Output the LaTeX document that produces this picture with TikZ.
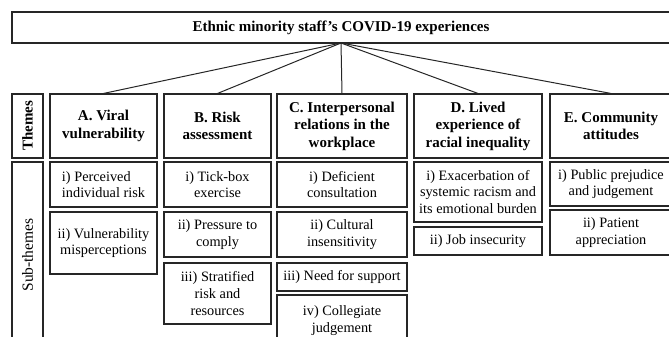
\documentclass[tikz,border=0pt]{standalone}
\usepackage{fontspec}
\setmainfont{Liberation Serif}
\begin{document}
\begin{tikzpicture}[x=1pt,y=-1pt,
  box/.style={draw=black!85, line width=1.1pt, inner sep=0pt, align=center,
    font=\fontsize{14.3}{16.7}\selectfont},
  thm/.style={box, font=\bfseries\fontsize{15}{17.5}\selectfont},
  link/.style={draw=black!85, line width=1pt}]
\useasboundingbox (0,0) rectangle (669,337);
\newcommand\bx[7][box]{\node[#1, minimum width={#5-#3}, minimum height={#6-#4}] (#2) at ({(#3+#5)/2},{(#4+#6)/2}) {#7};}
% title
\bx{top}{12}{12}{670}{43}{\bfseries\fontsize{15}{17}\selectfont Ethnic minority staff’s COVID-19 experiences}
% row labels
\node[box, rotate=90, minimum width=64, minimum height=31, font=\bfseries\fontsize{15}{17}\selectfont] (themes) at (27.5,126) {Themes};
\node[box, rotate=90, minimum width=186, minimum height=31, font=\fontsize{15.5}{17}\selectfont] (subthemes) at (27.5,255) {Sub-themes};
% themes
\bx[thm]{A}{50}{94}{157}{158}{A. Viral\\vulnerability}
\bx[thm]{B}{164}{94}{271}{158}{B. Risk\\assessment}
\bx[thm]{C}{277}{94}{407}{158}{C. Interpersonal\\relations in the\\workplace}
\bx[thm]{D}{414}{94}{542}{158}{D. Lived\\experience of\\racial inequality}
\bx[thm]{E}{550}{94}{672}{158}{E. Community\\attitudes}
% connectors
\coordinate (hub) at (341,43);
\foreach \t in {A,B,C,D,E} \draw[link] (hub) -- (\t.north);
% sub-themes
\bx[box, align=left]{A1}{50}{162}{157}{207}{i) Perceived\\individual risk}
\bx{A2}{50}{212}{157}{274}{ii) Vulnerability\\misperceptions}
\bx{B1}{164}{162}{271}{207}{i) Tick-box\\exercise}
\bx{B2}{164}{212}{271}{257}{ii) Pressure to\\comply}
\bx{B3}{164}{263}{271}{324}{iii) Stratified\\risk and\\resources}
\bx{C1}{277}{162}{407}{207}{i) Deficient\\consultation}
\bx{C2}{277}{212}{407}{257}{ii) Cultural\\insensitivity}
\bx{C3}{277}{263}{407}{291}{iii) Need for support}
\bx{C4}{277}{295}{407}{346}{iv) Collegiate\\judgement}
\bx{D1}{414}{162}{542}{222}{i) Exacerbation of\\systemic racism and\\its emotional burden}
\bx{D2}{414}{227}{542}{255}{ii) Job insecurity}
\bx{E1}{550}{162}{672}{206}{i) Public prejudice\\and judgement}
\bx{E2}{550}{210}{672}{255}{ii) Patient\\appreciation}
\end{tikzpicture}
\end{document}
